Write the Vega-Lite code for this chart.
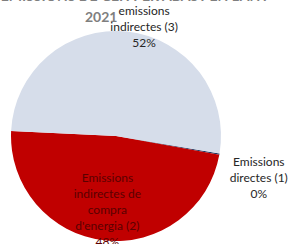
{
  "$schema": "https://vega.github.io/schema/vega-lite/v6.json",
  "width": 232,
  "height": 210,
  "autosize": "none",
  "padding": {"left": 0, "top": 31, "right": 57, "bottom": 3},
  "background": "white",
  "title": {
    "text": ["EMISSIONS DE GEH PER ABAST EN L'ANY", "2021\u2003\u2003\u2003\u2003\u2003\u2009\u2009\u2009\u2800"],
    "font": "Lato",
    "fontSize": 14,
    "fontWeight": "bold",
    "color": "#7f7f7f",
    "lineHeight": 21,
    "anchor": "middle",
    "dx": 19,
    "offset": -42
  },
  "data": {
    "values": [
      {"abast": 1, "pct": 0.2, "label": "Emissions\ndirectes (1)\n0%"},
      {"abast": 2, "pct": 48, "label": "Emissions\nindirectes de\ncompra\nd'energia (2)\n48%"},
      {"abast": 3, "pct": 52, "label": "emissions\nindirectes (3)\n52%"}
    ]
  },
  "encoding": {
    "theta": {"field": "pct", "type": "quantitative", "stack": true, "scale": {"range": [1.738, 8.0212]}},
    "order": {"field": "abast", "type": "quantitative"}
  },
  "layer": [
    {
      "mark": {"type": "arc", "outerRadius": 105},
      "encoding": {
        "color": {
          "field": "abast",
          "type": "nominal",
          "scale": {"domain": [1, 2, 3], "range": ["#1f3864", "#c00000", "#d6ddea"]},
          "legend": null
        }
      }
    },
    {
      "mark": {"type": "text", "radius": 148, "dx": -3, "dy": 0, "font": "Lato", "fontSize": 12, "lineBreak": "\n", "lineHeight": 16, "color": "#262626", "align": "center", "baseline": "middle"},
      "encoding": {"text": {"condition": {"test": "datum.abast == 1", "field": "label"}, "value": ""}}
    },
    {
      "mark": {"type": "text", "radius": 76, "dy": -34, "font": "Lato", "fontSize": 12, "lineBreak": "\n", "lineHeight": 16, "color": "#5a0000", "align": "center", "baseline": "middle"},
      "encoding": {"text": {"condition": {"test": "datum.abast == 2", "field": "label"}, "value": ""}}
    },
    {
      "mark": {"type": "text", "radius": 113, "dx": 16, "dy": -13, "font": "Lato", "fontSize": 12, "lineBreak": "\n", "lineHeight": 16, "color": "#262626", "align": "center", "baseline": "middle"},
      "encoding": {"text": {"condition": {"test": "datum.abast == 3", "field": "label"}, "value": ""}}
    }
  ]
}
